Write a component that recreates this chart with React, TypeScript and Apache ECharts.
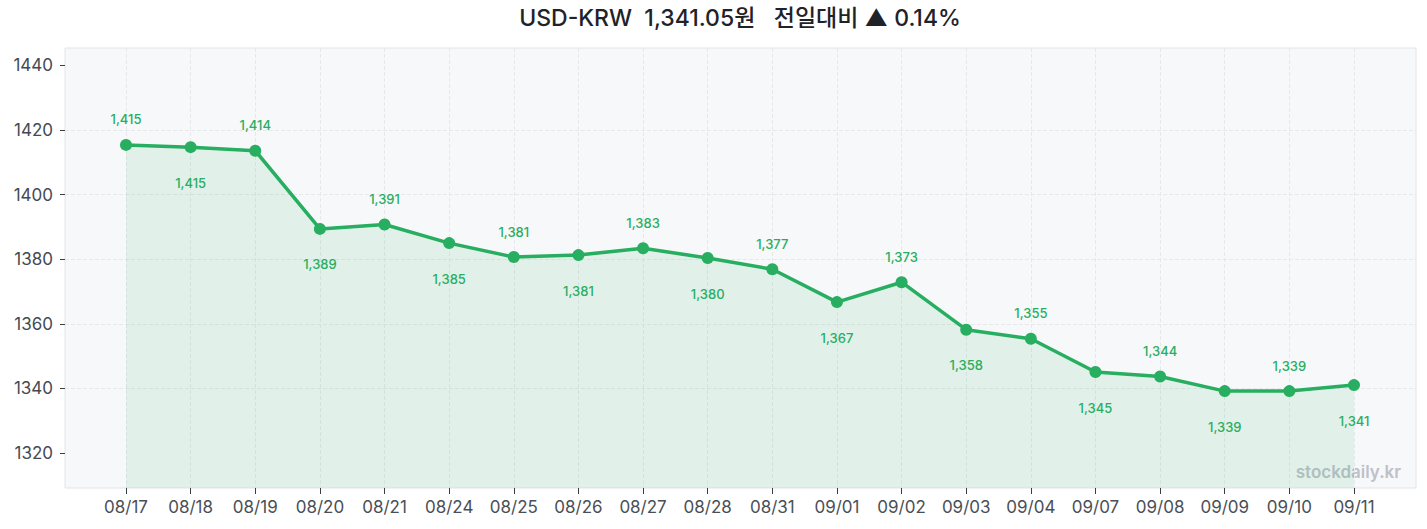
import React, { useEffect, useRef } from 'react';
import * as echarts from 'echarts';

// 일별 환율 (USD-KRW)
const dates = [
  '08/17', '08/18', '08/19', '08/20', '08/21', '08/24', '08/25', '08/26', '08/27', '08/28',
  '08/31', '09/01', '09/02', '09/03', '09/04', '09/07', '09/08', '09/09', '09/10', '09/11',
];
const rates = [
  1415.4, 1414.7, 1413.6, 1389.4, 1390.75, 1385.0, 1380.7, 1381.3, 1383.4, 1380.4,
  1376.9, 1366.75, 1372.9, 1358.2, 1355.4, 1345.1, 1343.7, 1339.2, 1339.2, 1341.05,
];
const yTicks = [1320, 1340, 1360, 1380, 1400, 1420, 1440];
const titleText = 'USD-KRW  1,341.05원   전일대비 ▲ 0.14%';
const watermark = 'stockdaily.kr';

const GREEN = '#27ae60';
const FONT = "Inter, 'Noto Sans CJK KR', sans-serif";

const yMin = Math.min(...rates) - 30;
const yMax = Math.max(...rates) + 30;

const App: React.FC = () => {
  const chartRef = useRef<HTMLDivElement>(null);

  useEffect(() => {
    document.body.style.margin = '0';
    if (!chartRef.current) return;
    const chart = echarts.init(chartRef.current, undefined, { renderer: 'svg' });

    const option = {
      animation: false,
      title: {
        text: titleText,
        left: 740,
        top: 6,
        padding: 0,
        textAlign: 'center',
        textStyle: { fontSize: 23, fontWeight: 500, color: '#1f2328', fontFamily: FONT },
      },
      grid: [
        // 배경 + y축용
        {
          left: 65, right: 11, top: 48, bottom: 41,
          show: true, backgroundColor: '#f7f8fa', borderColor: '#e2e4ea', borderWidth: 1,
        },
        // 데이터용
        { left: 126, right: 73, top: 48, bottom: 41 },
      ],
      xAxis: [
        { type: 'value', gridIndex: 0, show: false },
        {
          type: 'category',
          gridIndex: 1,
          data: dates,
          boundaryGap: false,
          axisLine: { show: false },
          axisTick: { show: true, length: 6, lineStyle: { color: '#3a3f47' } },
          axisLabel: { margin: 10, fontSize: 17, color: '#4a4f57', fontFamily: FONT },
          splitLine: { show: true, lineStyle: { type: 'dashed', color: '#e6e8ec' } },
        },
      ],
      yAxis: [
        {
          type: 'value',
          gridIndex: 0,
          min: yMin,
          max: yMax,
          splitNumber: 7,
          axisLine: { show: false },
          axisTick: { show: true, length: 5, lineStyle: { color: '#3a3f47' }, customValues: yTicks },
          axisLabel: {
            margin: 12, fontSize: 17, color: '#444a52', fontFamily: FONT, customValues: yTicks,
            formatter: (v: number) => String(v),
          },
          splitLine: {
            show: true, showMinLine: false, showMaxLine: false,
            lineStyle: { type: 'dashed', color: '#e6e8ec' },
          },
        },
        { type: 'value', gridIndex: 1, min: yMin, max: yMax, show: false },
      ],
      graphic: [
        {
          type: 'text',
          right: 26,
          bottom: 49,
          style: {
            text: watermark,
            fontSize: 17,
            fontWeight: 600,
            fontFamily: FONT,
            fill: '#bdc1c8',
          },
        },
      ],
      series: [
        {
          type: 'line',
          xAxisIndex: 1,
          yAxisIndex: 1,
          data: rates.map((v, i) => ({
            value: v,
            label: { position: i % 2 === 0 ? 'top' : 'bottom', distance: i % 2 === 0 ? 13 : 23 },
          })),
          symbol: 'circle',
          symbolSize: 12,
          lineStyle: { width: 3.5, color: GREEN },
          itemStyle: { color: GREEN },
          areaStyle: { color: 'rgba(39,174,96,0.14)' },
          label: {
            show: true,
            fontSize: 13,
            fontWeight: 500,
            color: GREEN,
            fontFamily: FONT,
            formatter: (p: any) => Math.round(p.value).toLocaleString('en-US'),
          },
        },
      ],
    };

    chart.setOption(option);
    return () => {
      chart.dispose();
    };
  }, []);

  return <div ref={chartRef} style={{ width: '100%', height: '529px' }} />;
};

export default App;
